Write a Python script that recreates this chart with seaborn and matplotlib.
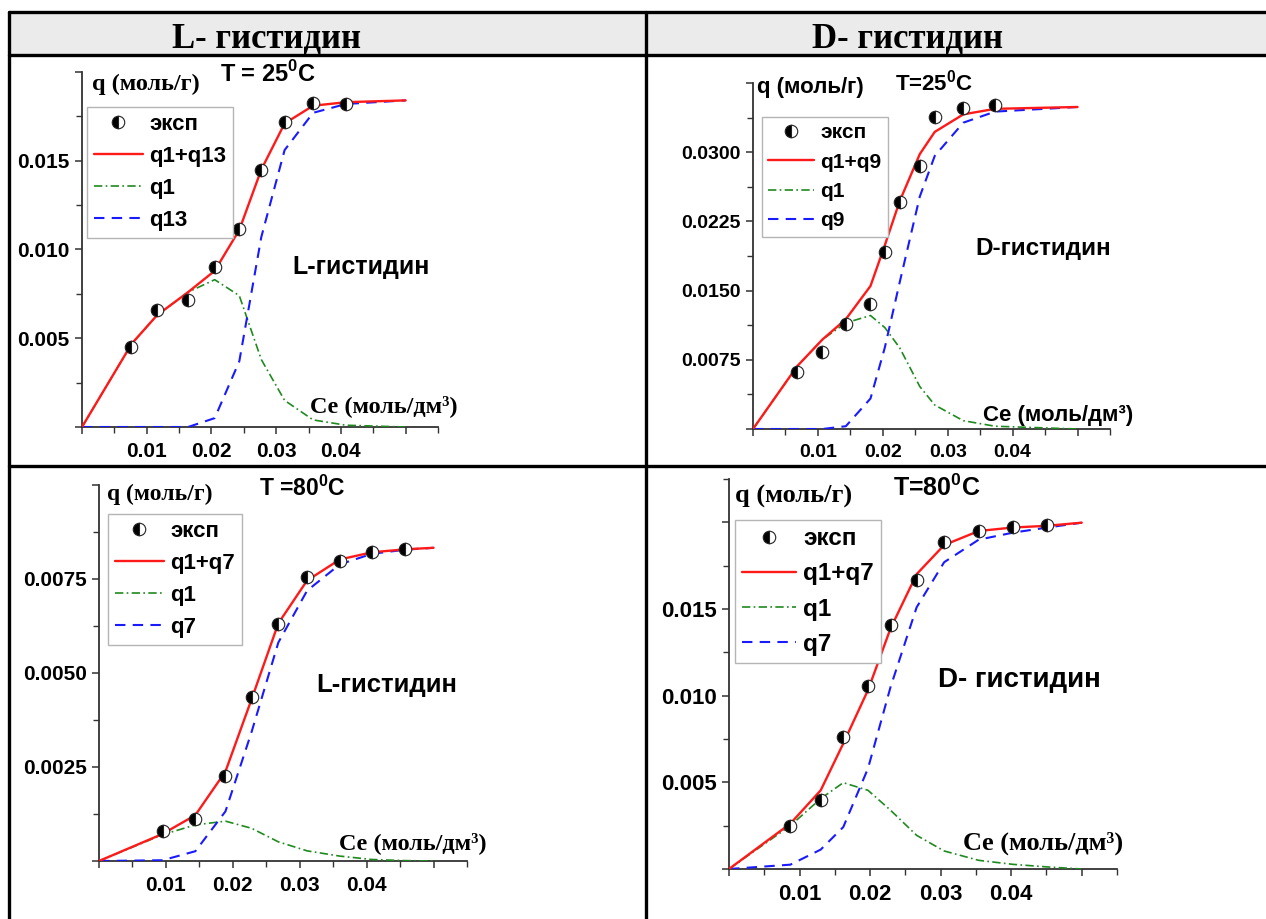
import matplotlib
matplotlib.use("Agg")
import matplotlib.pyplot as plt
import seaborn as sns
from matplotlib.lines import Line2D
from matplotlib.patches import Rectangle
from matplotlib.ticker import MultipleLocator

# L-гистидин, 25 C
x_l25_exp = [0.0076, 0.0116, 0.0164, 0.0205, 0.0243, 0.0277, 0.0313, 0.0357, 0.0408]
q_l25_exp = [0.00453, 0.0066, 0.00716, 0.00904, 0.01115, 0.01449, 0.01718, 0.01825, 0.0182]
x_l25_fit = [0, 0.0077, 0.0116, 0.0164, 0.0205, 0.0243, 0.0277, 0.0313, 0.0357, 0.0408, 0.05]
q_l25_sum = [0, 0.0047, 0.0063, 0.0076, 0.0088, 0.0111, 0.0145, 0.0171, 0.0181, 0.0183, 0.0184]
q_l25_q1 = [0, 0.0047, 0.0063, 0.0076, 0.0083, 0.0074, 0.0038, 0.0015, 0.0004, 0.0001, 0.0]
q_l25_q13 = [0, 0, 0, 0, 0.0005, 0.0037, 0.0107, 0.0156, 0.0177, 0.0182, 0.0184]

# D-гистидин, 25 C
x_d25_exp = [0.0068, 0.0107, 0.0143, 0.0181, 0.0203, 0.0226, 0.0257, 0.0280, 0.0324, 0.0373]
q_d25_exp = [0.00614, 0.00835, 0.01138, 0.01355, 0.01918, 0.02456, 0.02846, 0.03377, 0.03479, 0.03507]
x_d25_fit = [0, 0.0068, 0.0107, 0.0143, 0.0181, 0.0203, 0.0226, 0.0257, 0.0280, 0.0324, 0.0373, 0.05]
q_d25_sum = [0, 0.0068, 0.0097, 0.0119, 0.0155, 0.0199, 0.0247, 0.0298, 0.0322, 0.0341, 0.0347, 0.0349]
q_d25_q1 = [0, 0.0068, 0.0097, 0.0115, 0.0123, 0.0110, 0.0088, 0.0046, 0.0026, 0.0009, 0.0003, 0.0]
q_d25_q9 = [0, 0, 0, 0.0003, 0.0033, 0.0088, 0.0159, 0.0252, 0.0296, 0.0332, 0.0344, 0.0349]

# L-гистидин, 80 C
x_l80_exp = [0.0095, 0.0144, 0.0189, 0.0228, 0.0268, 0.0311, 0.0360, 0.0408, 0.0458]
q_l80_exp = [0.0008, 0.00113, 0.00227, 0.00437, 0.0063, 0.00754, 0.00798, 0.00823, 0.00829]
x_l80_fit = [0, 0.0095, 0.0144, 0.0189, 0.0228, 0.0268, 0.0311, 0.0360, 0.0408, 0.0458, 0.05]
q_l80_sum = [0, 0.00072, 0.00122, 0.00238, 0.0043, 0.00632, 0.00746, 0.00802, 0.00821, 0.00829, 0.00833]
q_l80_q1 = [0, 0.0007, 0.00096, 0.00106, 0.00087, 0.00051, 0.00027, 0.00013, 0.00004, 0.00001, 0.0]
q_l80_q7 = [0, 0.00002, 0.00026, 0.00132, 0.00343, 0.00581, 0.00719, 0.00789, 0.00817, 0.00828, 0.00833]

# D-гистидин, 80 C
x_d80_exp = [0.0087, 0.0130, 0.0162, 0.0197, 0.0229, 0.0266, 0.0305, 0.0354, 0.0402, 0.0451]
q_d80_exp = [0.00248, 0.00397, 0.00762, 0.01057, 0.01407, 0.0167, 0.01884, 0.0195, 0.01971, 0.01982]
x_d80_fit = [0, 0.0087, 0.0130, 0.0162, 0.0197, 0.0229, 0.0266, 0.0305, 0.0354, 0.0402, 0.0451, 0.05]
q_d80_sum = [0, 0.00262, 0.00454, 0.00724, 0.01032, 0.01388, 0.01701, 0.01869, 0.0195, 0.0197, 0.0198, 0.01998]
q_d80_q1 = [0, 0.0025, 0.00406, 0.00498, 0.00454, 0.00339, 0.00194, 0.00104, 0.0005, 0.00027, 0.00012, 0.0]
q_d80_q7 = [0, 0.00025, 0.00112, 0.00242, 0.0058, 0.0105, 0.0151, 0.0177, 0.0190, 0.0194, 0.0197, 0.01998]

x_ticks = [0, 0.01, 0.02, 0.03, 0.04, 0.05]
x_ticklabels = ["", "0.01", "0.02", "0.03", "0.04", ""]

sns.set_theme(style="ticks")
plt.rcParams["font.family"] = ["Liberation Sans", "DejaVu Sans"]
plt.rcParams["mathtext.fontset"] = "custom"
plt.rcParams["mathtext.rm"] = "Liberation Sans:bold"
plt.rcParams["mathtext.bf"] = "Liberation Sans:bold"
plt.rcParams["text.color"] = "black"
plt.rcParams["xtick.labelcolor"] = "black"
plt.rcParams["ytick.labelcolor"] = "black"

W, H = 1266, 919
fig = plt.figure(figsize=(W / 100, H / 100), dpi=100)
fig.patch.set_facecolor("white")


def fx(px):
    return px / W


def fy(py):
    return 1 - py / H


def add_ax(l, t, r, b):
    return fig.add_axes([fx(l), fy(b), (r - l) / W, (b - t) / H])


# сетка таблицы
fig.add_artist(Rectangle((fx(9), fy(55)), 1 - fx(9), (55 - 12) / H,
                         facecolor="#ebebeb", edgecolor="none", transform=fig.transFigure))
lw_tab = 2.4
for y in [12, 55, 466]:
    fig.add_artist(Line2D([fx(9), 1], [fy(y), fy(y)], color="black", lw=lw_tab))
for x in [9, 646]:
    fig.add_artist(Line2D([fx(x), fx(x)], [fy(12), 0], color="black", lw=lw_tab))

serif = ["Liberation Serif", "DejaVu Serif"]
sans = ["Liberation Sans", "DejaVu Sans"]
fig.text(fx(267), fy(47), "L- гистидин", ha="center", va="baseline",
         family=serif, fontweight="bold", fontsize=25)
fig.text(fx(908), fy(47), "D- гистидин", ha="center", va="baseline",
         family=serif, fontweight="bold", fontsize=25)


def draw_panel(ax, x_exp, q_exp, x_fit, q_sum, q_a, q_b, name_b,
               ylim, ystep, yfmt, fs_tick, legend_xy, fs_leg):
    ax.plot(x_exp, q_exp, linestyle="none", marker="o", markersize=9,
            fillstyle="left", markerfacecolor="black", markerfacecoloralt="white",
            markeredgecolor="#222222", markeredgewidth=0.8, label="эксп", zorder=5)
    sns.lineplot(x=x_fit, y=q_sum, ax=ax, color="#ff1a1a", lw=1.7,
                 label="q1+" + name_b, errorbar=None, zorder=4)
    sns.lineplot(x=x_fit, y=q_a, ax=ax, color="#1f8a1f", lw=1.2,
                 linestyle=(0, (5, 2, 1, 2)), label="q1", errorbar=None, zorder=3)
    sns.lineplot(x=x_fit, y=q_b, ax=ax, color="#1a1aff", lw=1.5,
                 linestyle=(0, (5, 3.5)), label=name_b, errorbar=None, zorder=3)

    ax.set_xlim(0, 0.055)
    ax.set_ylim(*ylim)
    ax.set_xlabel("")
    ax.set_ylabel("")
    yt = [ystep * i for i in range(int(ylim[1] / ystep + 1e-6) + 1)]
    ylab = [""] + [yfmt.format(v) for v in yt[1:-1]] + [""]
    ax.set_xticks(x_ticks, x_ticklabels, fontsize=fs_tick, fontweight="bold")
    ax.set_yticks(yt, ylab, fontsize=fs_tick, fontweight="bold")
    ax.xaxis.set_minor_locator(MultipleLocator(0.005))
    ax.yaxis.set_minor_locator(MultipleLocator(ystep / 2))
    ax.tick_params(which="major", direction="out", length=5, width=1.1,
                   color="#333333", labelcolor="black", pad=4)
    ax.tick_params(axis="x", which="major", pad=6)
    ax.tick_params(which="minor", direction="out", length=4, width=1.0, color="#333333")
    for s in ["top", "right"]:
        ax.spines[s].set_visible(False)
    for s in ["left", "bottom"]:
        ax.spines[s].set_color("#333333")
        ax.spines[s].set_linewidth(1.3)
    ax.set_facecolor("white")

    handles, labels = ax.get_legend_handles_labels()
    leg = ax.legend(handles, labels, loc="upper left",
                    bbox_to_anchor=(fx(legend_xy[0]), fy(legend_xy[1])),
                    bbox_transform=fig.transFigure, borderaxespad=0,
                    frameon=True, fancybox=False, framealpha=1,
                    edgecolor="#b5b5b5", handlelength=2.2, handletextpad=0.3,
                    labelspacing=0.5, borderpad=0.3, labelcolor="black",
                    prop={"family": sans, "weight": "bold", "size": fs_leg})
    leg.get_frame().set_linewidth(1.0)


# панель 1: L 25
ax1 = add_ax(82, 72, 438, 427)
draw_panel(ax1, x_l25_exp, q_l25_exp, x_l25_fit, q_l25_sum, q_l25_q1, q_l25_q13,
           "q13", (0, 0.02), 0.005, "{:.3f}", 15, (87, 107), 16)
fig.text(fx(92), fy(84), "q (моль/г)", ha="left", va="center",
         family=serif, fontweight="bold", fontsize=17.5)
fig.text(fx(220), fy(74), "T = 25$^0$C", ha="left", va="center",
         family=sans, fontweight="bold", fontsize=17)
fig.text(fx(292), fy(267), "L-гистидин", ha="left", va="center",
         family=sans, fontweight="bold", fontsize=18)
fig.text(fx(310), fy(406), "Ce (моль/дм³)", ha="left", va="center",
         family=serif, fontweight="bold", fontsize=17.5)

# панель 2: D 25
ax2 = add_ax(753, 83, 1110, 429)
draw_panel(ax2, x_d25_exp, q_d25_exp, x_d25_fit, q_d25_sum, q_d25_q1, q_d25_q9,
           "q9", (0, 0.0375), 0.0075, "{:.4f}", 14, (762, 117), 15)
fig.text(fx(757), fy(88), "q (моль/г)", ha="left", va="center",
         family=sans, fontweight="bold", fontsize=16)
fig.text(fx(895), fy(83), "T=25$^0$C", ha="left", va="center",
         family=sans, fontweight="bold", fontsize=16)
fig.text(fx(975), fy(248), "D-гистидин", ha="left", va="center",
         family=sans, fontweight="bold", fontsize=17.5)
fig.text(fx(983), fy(416), "Ce (моль/дм³)", ha="left", va="center",
         family=sans, fontweight="bold", fontsize=16)

# панель 3: L 80
ax3 = add_ax(99, 485, 467, 861)
draw_panel(ax3, x_l80_exp, q_l80_exp, x_l80_fit, q_l80_sum, q_l80_q1, q_l80_q7,
           "q7", (0, 0.01), 0.0025, "{:.4f}", 15, (108, 514), 16)
fig.text(fx(107), fy(494), "q (моль/г)", ha="left", va="center",
         family=serif, fontweight="bold", fontsize=17)
fig.text(fx(259), fy(488), "T =80$^0$C", ha="left", va="center",
         family=sans, fontweight="bold", fontsize=16.5)
fig.text(fx(316), fy(685), "L-гистидин", ha="left", va="center",
         family=sans, fontweight="bold", fontsize=18.5)
fig.text(fx(339), fy(843), "Ce (моль/дм³)", ha="left", va="center",
         family=serif, fontweight="bold", fontsize=17.5)

# панель 4: D 80
ax4 = add_ax(729, 479, 1117, 869)
draw_panel(ax4, x_d80_exp, q_d80_exp, x_d80_fit, q_d80_sum, q_d80_q1, q_d80_q7,
           "q7", (0, 0.0225), 0.005, "{:.3f}", 16, (735, 520), 17.5)
fig.text(fx(735), fy(496), "q (моль/г)", ha="left", va="center",
         family=serif, fontweight="bold", fontsize=19)
fig.text(fx(893), fy(488), "T=80$^0$C", ha="left", va="center",
         family=sans, fontweight="bold", fontsize=18)
fig.text(fx(938), fy(680), "D- гистидин", ha="left", va="center",
         family=sans, fontweight="bold", fontsize=20)
fig.text(fx(963), fy(843), "Ce (моль/дм³)", ha="left", va="center",
         family=serif, fontweight="bold", fontsize=19)

fig.savefig("out.png", dpi=100)
